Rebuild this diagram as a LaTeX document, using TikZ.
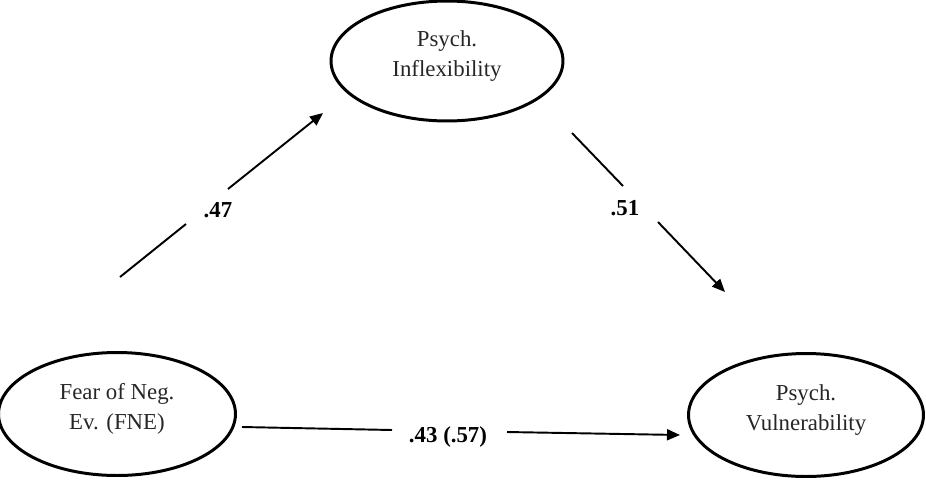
\documentclass[tikz,border=0pt]{standalone}
\usepackage{fontspec}
\setmainfont{Liberation Serif}
\usetikzlibrary{shapes,arrows.meta,positioning,calc}

\begin{document}
\begin{tikzpicture}[
    x=0.02cm, y=-0.02cm,
    var/.style={ellipse, draw=black, line width=1.7pt, inner sep=0pt, align=center, minimum width=4.7cm, minimum height=2.46cm, text depth=0.3cm, text=black!85, font=\fontsize{13}{17.5}\selectfont},
    coef/.style={font=\fontsize{13}{15}\selectfont\bfseries, inner sep=1pt},
    line/.style={line width=1.1pt, draw=black},
    arrow/.style={line, -{Triangle[length=0.26cm, width=0.22cm]}}
]
    \useasboundingbox (0,0) rectangle (926,484);

    \node [var, minimum width=4.64cm, minimum height=2.4cm] (inf) at (447,61) {Psych.\\Inflexibility};
    \node [var, minimum width=4.74cm] (fne) at (117,414) {Fear of Neg.\\Ev. (FNE)};
    \node [var] (vul) at (806,415) {Psych.\\Vulnerability};

    % path coefficients
    \node [coef] (c47) at (218,210) {.47};
    \node [coef] (c51) at (625,208) {.51};
    \node [coef] (c43) at (448,437) {.43 (.57)};

    % line ends, a gap is left for each coefficient
    \coordinate (a1) at (120,277);
    \coordinate (a2) at (186,224);
    \coordinate (a3) at (228,189);
    \coordinate (a4) at (323,113);

    \coordinate (b1) at (572,133);
    \coordinate (b2) at (623,186);
    \coordinate (b3) at (658,222);
    \coordinate (b4) at (725,292);

    \coordinate (d1) at (242,427);
    \coordinate (d2) at (392,430);
    \coordinate (d3) at (507,432);
    \coordinate (d4) at (680,435);

    \draw [line] (a1) -- (a2);
    \draw [arrow] (a3) -- (a4);
    \draw [line] (b1) -- (b2);
    \draw [arrow] (b3) -- (b4);
    \draw [line] (d1) -- (d2);
    \draw [arrow] (d3) -- (d4);
\end{tikzpicture}
\end{document}
